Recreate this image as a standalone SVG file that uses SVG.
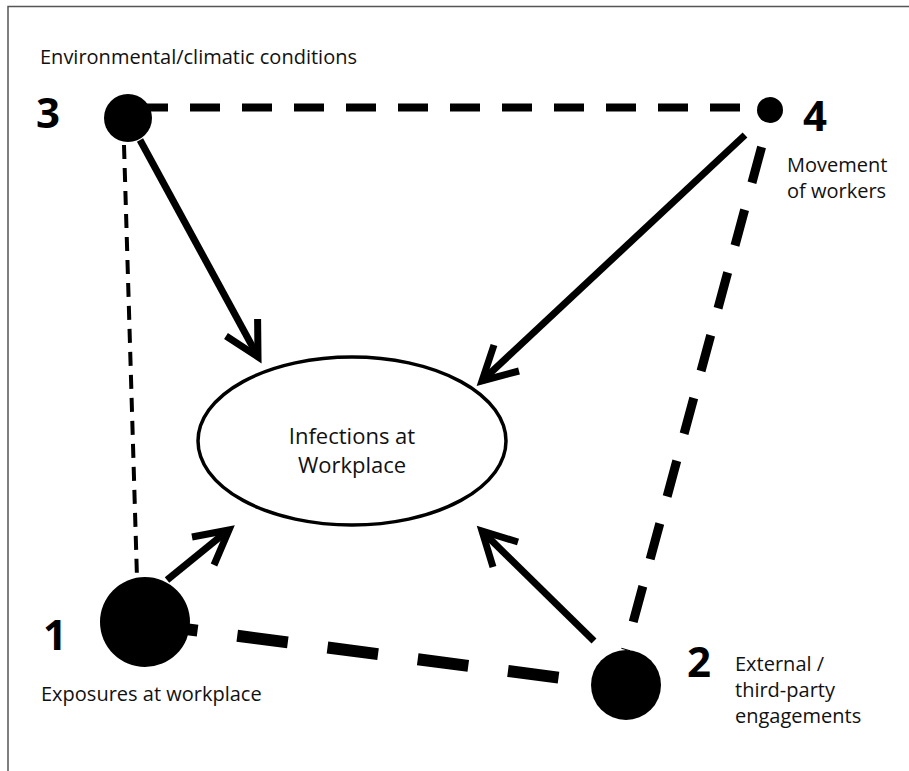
<svg xmlns="http://www.w3.org/2000/svg" width="909" height="771" viewBox="0 0 909 771">
<style>
.lbl{font-family:"Open Sans","Noto Sans",sans-serif;font-size:20px;fill:#111}
.num{font-family:"Open Sans","Noto Sans",sans-serif;font-size:42px;font-weight:bold;fill:#000}
.cen{font-family:"Open Sans","Noto Sans",sans-serif;font-size:22px;fill:#111;text-anchor:middle}
.arr{fill:none;stroke:#000;stroke-width:7;stroke-linecap:butt;stroke-linejoin:miter}
.dot{fill:#000}
</style>
<rect x="8" y="6.5" width="1000" height="1000" fill="#fff" stroke="#555" stroke-width="1.5"/>
<g id="connectors">
  <line x1="138" y1="107.5" x2="765" y2="107.5" stroke="#000" stroke-width="8" stroke-dasharray="30 22"/>
  <line x1="124" y1="145" x2="137" y2="578" stroke="#000" stroke-width="4" stroke-dasharray="14 9"/>
  <line x1="147" y1="624" x2="600" y2="683" stroke="#000" stroke-width="12" stroke-dasharray="51 40"/>
  <line x1="761.6" y1="147" x2="625.6" y2="650" stroke="#000" stroke-width="9" stroke-dasharray="37 28"/>
  <line class="arr" x1="140" y1="140" x2="256" y2="353"/>
  <polyline class="arr" points="257.6,319 258,357 226,336"/>
  <line class="arr" x1="745" y1="135" x2="485" y2="378"/>
  <polyline class="arr" points="519,371 482,381 494,345"/>
  <line class="arr" x1="167" y1="580" x2="226" y2="532"/>
  <polyline class="arr" points="192,537 229,530 214,565"/>
  <line class="arr" x1="594" y1="641" x2="485" y2="534"/>
  <polyline class="arr" points="493,567 482,531 518,542"/>
</g>
<g id="center">
  <ellipse cx="352" cy="441" rx="154" ry="84" fill="#fff" stroke="#000" stroke-width="3.5"/>
  <text class="cen" x="352" y="444">Infections at</text>
  <text class="cen" x="352" y="473">Workplace</text>
</g>
<g id="node3">
  <circle class="dot" cx="128" cy="118" r="24"/>
  <text class="num" x="36" y="128">3</text>
  <text class="lbl" x="40" y="64">Environmental/climatic conditions</text>
</g>
<g id="node4">
  <circle class="dot" cx="770" cy="110" r="13"/>
  <text class="num" x="803" y="131">4</text>
  <text class="lbl" x="787" y="172">Movement</text>
  <text class="lbl" x="787" y="198">of workers</text>
</g>
<g id="node1">
  <circle class="dot" cx="145" cy="622" r="45"/>
  <text class="num" x="43" y="650">1</text>
  <text class="lbl" x="41" y="701">Exposures at workplace</text>
</g>
<g id="node2">
  <circle class="dot" cx="626" cy="685" r="35"/>
  <text class="num" x="687" y="677">2</text>
  <text class="lbl" x="735" y="671">External /</text>
  <text class="lbl" x="735" y="697">third-party</text>
  <text class="lbl" x="735" y="723">engagements</text>
</g>
</svg>
